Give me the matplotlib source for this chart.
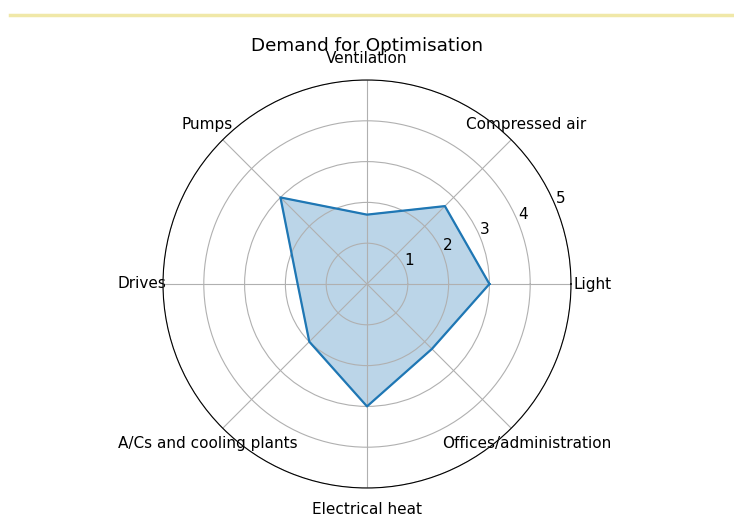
import numpy as np
import matplotlib.pyplot as plt
from matplotlib.lines import Line2D

# categories, counter-clockwise from 0 degrees
categories = ['Light', 'Compressed air', 'Ventilation', 'Pumps', 'Drives',
              'A/Cs and cooling plants', 'Electrical heat', 'Offices/administration']
values = [3, 2.7, 1.7, 3, 1.7, 2, 3, 2.25]

angles = np.linspace(0, 2 * np.pi, len(categories), endpoint=False)
closed_angles = np.concatenate([angles, angles[:1]])
closed_values = values + values[:1]

fig = plt.figure(figsize=(7.34, 5.3), dpi=100)

# thin yellow rule across the top
fig.add_artist(Line2D([10 / 734, 1.0], [1 - 15 / 530, 1 - 15 / 530],
                      color='#f0e8a8', linewidth=2.5, transform=fig.transFigure))

ax = fig.add_axes([163 / 734, 42 / 530, 408 / 734, 408 / 530], polar=True)
ax.plot(closed_angles, closed_values, color='C0', linewidth=1.6)
ax.fill(closed_angles, closed_values, color='C0', alpha=0.3)

ax.set_xticks(angles)
ax.set_xticklabels(categories, fontsize=11)
ax.set_ylim(0, 5)
ax.set_yticks([1, 2, 3, 4, 5])
ax.tick_params(axis='y', labelsize=11)
ax.tick_params(axis='x', pad=5)
ax.set_title('Demand for Optimisation', fontsize=13.2, y=1.072, pad=0)

plt.savefig('out.png', dpi=100)
